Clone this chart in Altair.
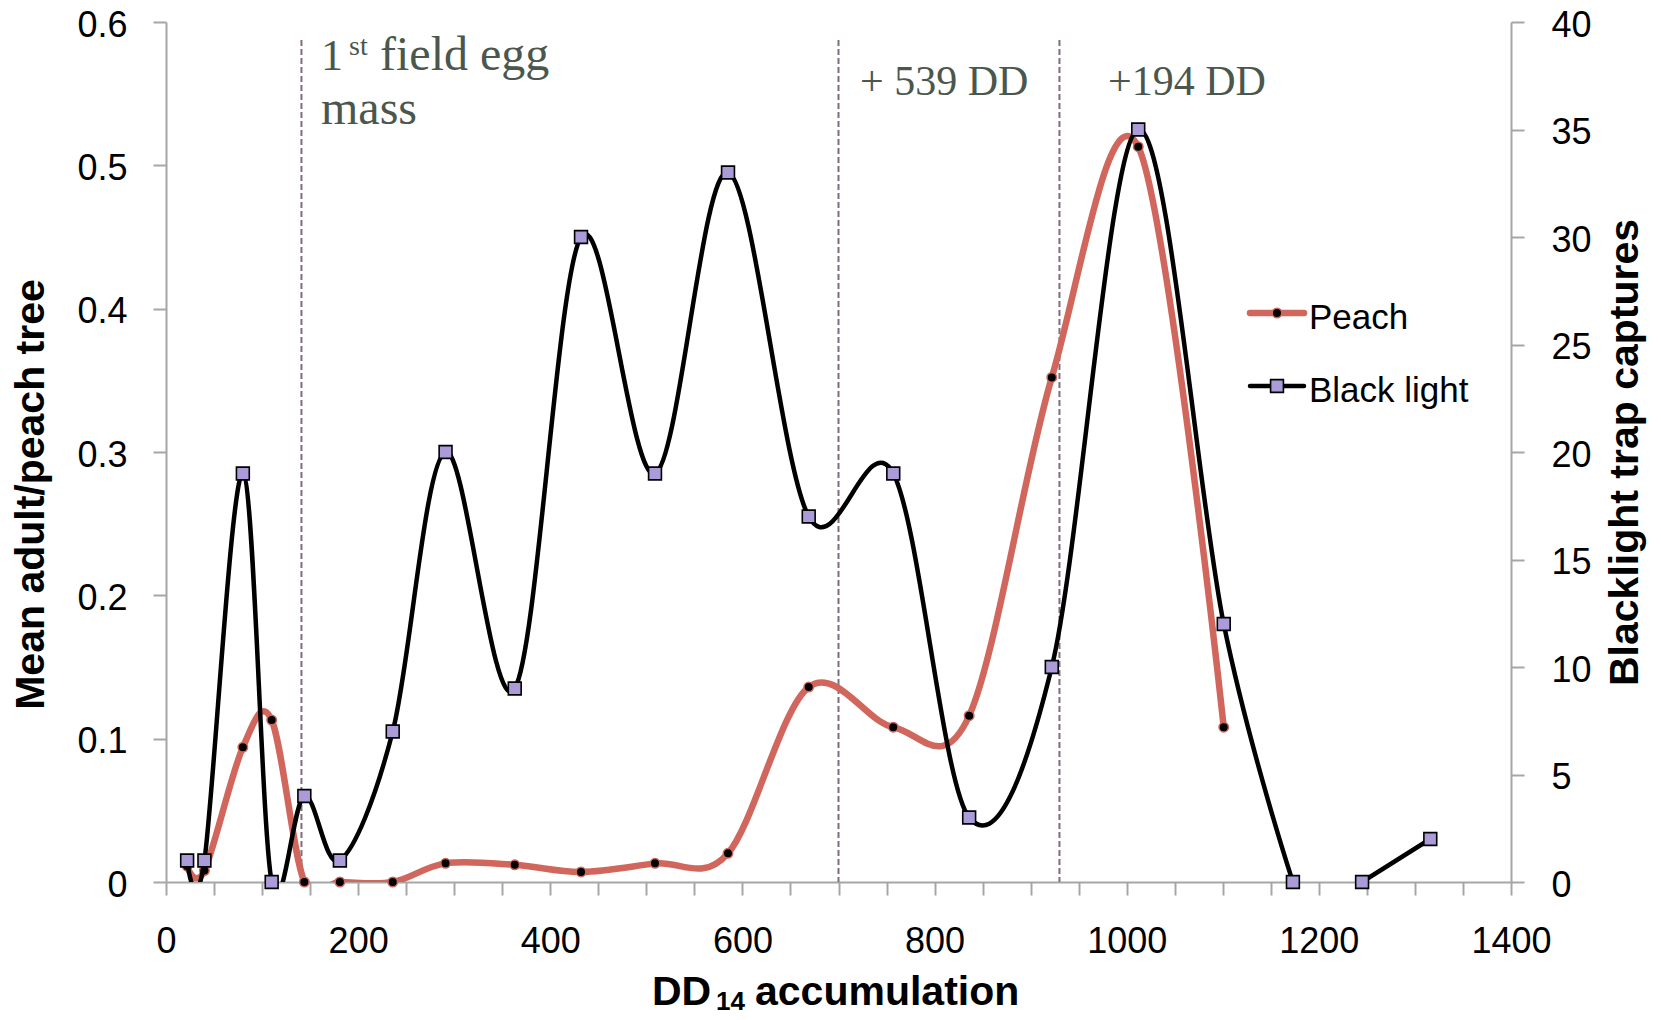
import altair as alt
import pandas as pd

# ---- data ----
dd_x = [22, 40, 80, 110, 144, 181, 236, 291, 363, 432, 509, 585, 669, 757, 836, 922, 1012, 1101, 1173, 1245, 1316]
peach = [0.011, 0.008, 0.094, 0.113, 0, 0, 0, 0.013, 0.012, 0.007, 0.013, 0.020,
         0.136, 0.108, 0.116, 0.352, 0.513, 0.108]
black_light = [1, 1, 19, 0, 4, 1, 7, 20, 9, 30, 19, 33, 17, 19, 3, 10, 35, 12, 0, 0, 2]
black_segment = [1] * 19 + [2] * 2
event_dd = [141, 700, 930]
x_ticks = list(range(0, 1401, 50))
left_ticks = [0, 0.1, 0.2, 0.3, 0.4, 0.5, 0.6]
right_ticks = list(range(0, 41, 5))

RED = "#d0665c"
LAV = "#ab9bd8"
AXIS_GRAY = "#a6a6a6"
ANNOT = "#4b574c"
SERIF = "Liberation Serif"
SANS = "Liberation Sans"

W, H = 1345, 860

peach_df = pd.DataFrame({"dd": dd_x[:len(peach)], "peach": peach})
black_df = pd.DataFrame({"dd": dd_x, "captures": black_light, "seg": black_segment})
event_df = pd.DataFrame({"dd": event_dd})
one = pd.DataFrame({"a": [0]})

x_axis = alt.Axis(values=x_ticks,
                  labelExpr="datum.value % 200 === 0 ? format(datum.value, 'd') : ''",
                  title=None, orient="bottom", labelFlush=False, labelOverlap=False,
                  labelPadding=29, tickSize=13)
x_enc = alt.X("dd:Q", scale=alt.Scale(domain=[0, 1400], nice=False, zero=False), axis=x_axis)

left_axis = alt.Axis(values=left_ticks, orient="left", title="Mean adult/peach tree",
                     labelExpr="datum.value === 0 ? '0' : format(datum.value, '.1f')",
                     labelPadding=26, tickSize=13, labelOffset=3,
                     titleX=-123, titleY=472, titleAngle=270, titleBaseline="alphabetic",
                     titleAlign="center")
right_axis = alt.Axis(values=right_ticks, orient="right", title="Blacklight trap captures",
                      labelExpr="format(datum.value, 'd')",
                      labelPadding=27, tickSize=13, labelOffset=3,
                      titleX=126, titleY=430, titleAngle=270, titleBaseline="alphabetic",
                      titleAlign="center")

y_left = alt.Y("peach:Q", scale=alt.Scale(domain=[0, 0.6], nice=False), axis=left_axis)
y_right = alt.Y("captures:Q", scale=alt.Scale(domain=[0, 40], nice=False), axis=right_axis)

peach_line = alt.Chart(peach_df).mark_line(
    color=RED, strokeWidth=6.5, interpolate="cardinal", clip=True, strokeCap="round"
).encode(x=x_enc, y=y_left)
peach_pts = alt.Chart(peach_df).mark_circle(
    size=90, color="black", opacity=1, stroke=RED, strokeWidth=1.5
).encode(x=x_enc, y=y_left)
peach_layer = alt.layer(peach_line, peach_pts)

black_line = alt.Chart(black_df).mark_line(
    color="black", strokeWidth=4.5, interpolate="cardinal", clip=True
).encode(x=x_enc, y=y_right, detail="seg:N")
black_pts = alt.Chart(black_df).mark_square(
    size=165, color=LAV, opacity=1, stroke="black", strokeWidth=1.6
).encode(x=x_enc, y=y_right)
black_layer = alt.layer(black_line, black_pts)

rules = alt.Chart(event_df).mark_rule(
    color="#7f6c7d", strokeWidth=2, strokeDash=[6, 3]
).encode(x=alt.X("dd:Q"), y=alt.value(18), y2=alt.value(H))


def txt(s, x, y, size, font=SERIF, color=ANNOT, weight="normal"):
    return alt.Chart(one).mark_text(
        text=s, align="left", baseline="alphabetic", font=font, fontSize=size,
        color=color, fontWeight=weight
    ).encode(x=alt.value(x), y=alt.value(y))


annots = [
    txt("1", 155, 48, 44),
    txt("st", 183, 33, 28),
    txt("field egg", 214, 48, 48),
    txt("mass", 155, 102, 48),
    txt("+ 539 DD", 694, 73, 42),
    txt("+194 DD", 942, 73, 42),
]

xtitle = [
    txt("DD", 486, 983, 41, font=SANS, color="black", weight="bold"),
    txt("14", 550, 988, 26, font=SANS, color="black", weight="bold"),
    txt("accumulation", 589, 983, 41, font=SANS, color="black", weight="bold"),
]

# legend
leg = [
    alt.Chart(one).mark_rule(color=RED, strokeWidth=6.5, strokeCap="round").encode(
        x=alt.value(1084), x2=alt.value(1138), y=alt.value(291)),
    alt.Chart(one).mark_circle(size=90, color="black", opacity=1, stroke=RED, strokeWidth=1.5).encode(
        x=alt.value(1111), y=alt.value(291)),
    txt("Peach", 1143, 307, 35, font=SANS, color="black"),
    alt.Chart(one).mark_rule(color="black", strokeWidth=4.5, strokeCap="round").encode(
        x=alt.value(1084), x2=alt.value(1138), y=alt.value(364)),
    alt.Chart(one).mark_square(size=165, color=LAV, opacity=1, stroke="black", strokeWidth=1.6).encode(
        x=alt.value(1111), y=alt.value(364)),
    txt("Black light", 1143, 380, 35, font=SANS, color="black"),
]

chart = alt.layer(
    rules, peach_layer, black_layer, *annots, *xtitle, *leg
).resolve_scale(y="independent").properties(
    width=W, height=H,
    padding={"left": 158, "top": 14, "right": 140, "bottom": 130},
    autosize=alt.AutoSizeParams(type="none"),
).configure_view(stroke=None).configure_axis(
    domainColor=AXIS_GRAY, domainWidth=2, tickColor=AXIS_GRAY, tickWidth=2,
    labelFont=SANS, labelFontSize=36, labelColor="black", grid=False,
    titleFont=SANS, titleFontSize=41, titleFontWeight="bold", titleColor="black"
)

chart.save("out.html", embed_options={"renderer": "svg", "actions": False})
